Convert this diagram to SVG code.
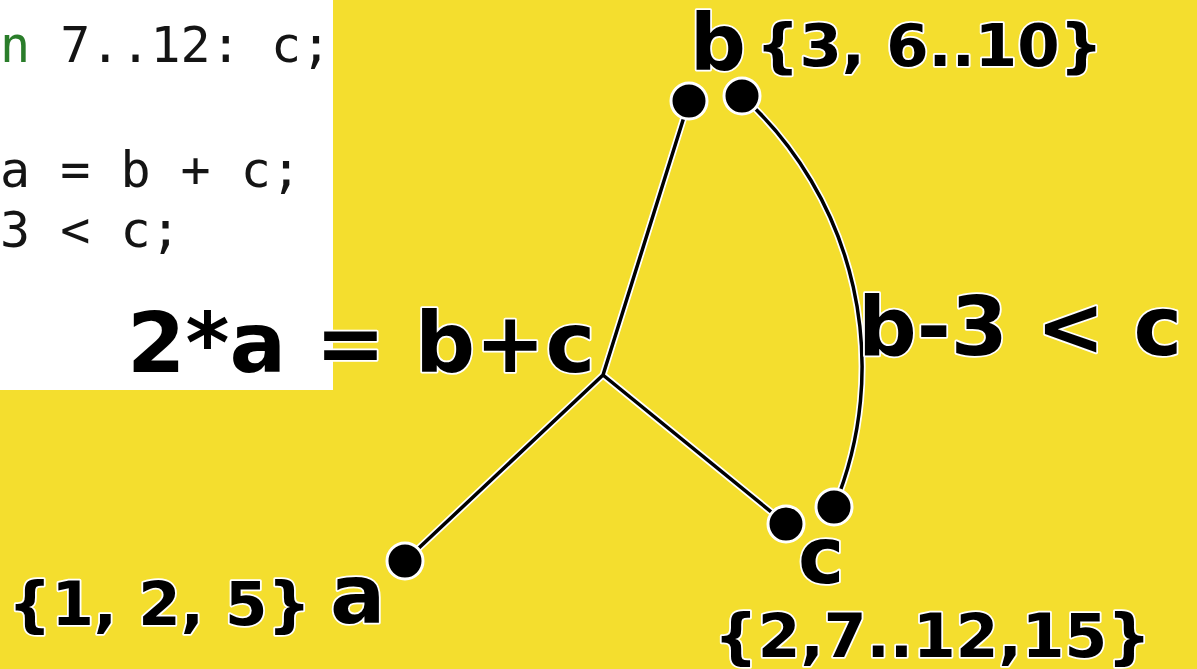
<svg xmlns="http://www.w3.org/2000/svg" width="1197" height="669" viewBox="0 0 1197 669">
  <style>
    .code { font-family: "DejaVu Sans Mono", "Liberation Mono", monospace; font-size: 50px; fill: #141414; }
    .lbl { font-family: "DejaVu Sans", "Verdana", sans-serif; font-weight: bold; fill: #000; stroke: #fff; stroke-width: 3.5px; stroke-linejoin: round; paint-order: stroke; }
    .halo { fill: none; stroke: #fff; stroke-width: 7px; stroke-linecap: round; }
    .wire { fill: none; stroke: #000; stroke-width: 3.5px; stroke-linecap: round; }
    .dot { fill: #000; stroke: #fff; stroke-width: 3px; }
  </style>
  <rect x="0" y="0" width="1197" height="669" fill="#F4DE2E"/>
  <g id="code-panel">
    <rect x="0" y="0" width="333" height="390" fill="#ffffff"/>
    <text class="code" x="0" y="62"><tspan fill="#2a7d2a">n</tspan> 7..12: c;</text>
    <text class="code" x="0" y="187">a = b + c;</text>
    <text class="code" x="0" y="247">3 &lt; c;</text>
  </g>
  <g id="connectors">
    <path class="halo" d="M603,375 L689,101 M603,375 L405,561 M603,375 L786,524 M742,96 A365,365 0 0 1 834,507"/>
    <path class="wire" d="M603,375 L689,101 M603,375 L405,561 M603,375 L786,524 M742,96 A365,365 0 0 1 834,507"/>
  </g>
  <g id="constraint-sum">
    <text class="lbl" x="127" y="372" font-size="84">2*a = b+c</text>
  </g>
  <g id="constraint-less">
    <text class="lbl" x="858" y="355" font-size="82">b-3 &lt; c</text>
  </g>
  <g id="node-b">
    <circle class="dot" cx="689" cy="101" r="18"/>
    <circle class="dot" cx="742" cy="96" r="18"/>
    <text class="lbl" x="690" y="70" font-size="78">b</text>
    <text class="lbl" x="756" y="66" font-size="59" textLength="347" lengthAdjust="spacingAndGlyphs">{3, 6..10}</text>
  </g>
  <g id="node-a">
    <circle class="dot" cx="405" cy="561" r="18"/>
    <text class="lbl" x="330" y="623" font-size="82">a</text>
    <text class="lbl" x="8" y="625" font-size="60" textLength="303" lengthAdjust="spacingAndGlyphs">{1, 2, 5}</text>
  </g>
  <g id="node-c">
    <circle class="dot" cx="786" cy="524" r="18"/>
    <circle class="dot" cx="834" cy="507" r="18"/>
    <text class="lbl" x="798" y="583" font-size="78">c</text>
    <text class="lbl" x="714" y="657" font-size="60" textLength="437" lengthAdjust="spacingAndGlyphs">{2,7..12,15}</text>
  </g>
</svg>
